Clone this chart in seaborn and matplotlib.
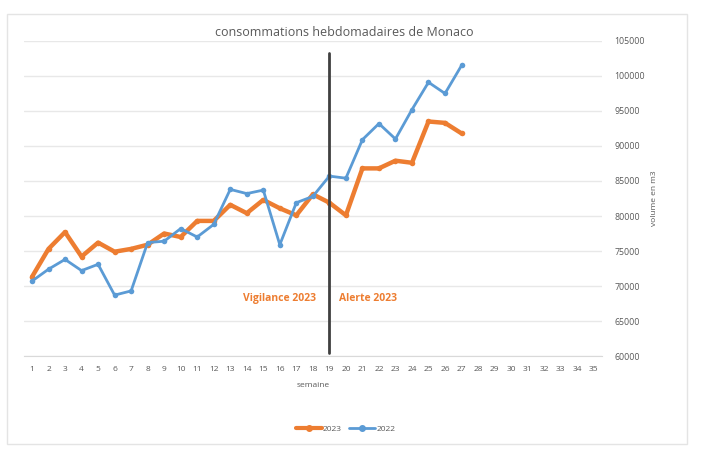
import numpy as np
import pandas as pd
import matplotlib
matplotlib.use("Agg")
import matplotlib.pyplot as plt
import seaborn as sns
from matplotlib.patches import Rectangle
from matplotlib.lines import Line2D

# -------------------------
# DATA
# -------------------------
weeks = list(range(1, 28))
conso_2023 = [71300, 75300, 77700, 74200, 76200, 74900, 75300, 75900, 77500, 77000,
              79300, 79300, 81600, 80400, 82300, 81100, 80100, 83100, 81900, 80100,
              86800, 86800, 87900, 87600, 93500, 93300, 91800]
conso_2022 = [70700, 72400, 73800, 72200, 73100, 68700, 69300, 76200, 76400, 78200,
              77000, 78800, 83800, 83200, 83700, 75900, 81900, 82800, 85700, 85400,
              90900, 93200, 91000, 95200, 99100, 97500, 101500]
all_weeks = list(range(1, 36))
y_ticks = list(range(60000, 105001, 5000))

ORANGE = "#ED7D31"
BLUE = "#5B9BD5"
GREY = "#595959"

df = pd.DataFrame({
    "semaine": weeks * 2,
    "volume": conso_2023 + conso_2022,
    "annee": ["2023"] * len(weeks) + ["2022"] * len(weeks),
})

# -------------------------
# FIGURE
# -------------------------
sns.set_style("white")
plt.rcParams["font.family"] = ["Open Sans", "DejaVu Sans"]

fig = plt.figure(figsize=(7.02, 4.62), dpi=100)
ax = fig.add_axes([0.0338, 0.2294, 0.8237, 0.6819])

sns.lineplot(data=df[df.annee == "2022"], x="semaine", y="volume", ax=ax,
             color=BLUE, linewidth=2, marker="o", markersize=4,
             markeredgewidth=0, zorder=3)
sns.lineplot(data=df[df.annee == "2023"], x="semaine", y="volume", ax=ax,
             color=ORANGE, linewidth=3.2, marker="o", markersize=4,
             markeredgewidth=0, zorder=2)

# vertical separator at week 19
ax.plot([19, 19], [60400, 103300], color="#404040", linewidth=2, zorder=4)
ax.text(18.2, 68150, "Vigilance 2023", color=ORANGE, fontsize=7.5,
        fontweight="bold", ha="right", va="center")
ax.text(19.6, 68150, "Alerte 2023", color=ORANGE, fontsize=7.5,
        fontweight="bold", ha="left", va="center")

# axes
ax.set_xlim(0.5, 35.5)
ax.set_ylim(60000, 105000)
ax.set_xticks(all_weeks)
ax.set_xticklabels([str(w) for w in all_weeks], fontsize=6, color=GREY)
ax.set_xticks(np.arange(0.5, 36, 1), minor=True)
ax.tick_params(axis="x", which="major", length=0, pad=7)
ax.tick_params(axis="x", which="minor", length=3, color="#d9d9d9", width=0.8)

ax.yaxis.tick_right()
ax.yaxis.set_label_position("right")
ax.set_yticks(y_ticks)
ax.set_yticklabels([str(v) for v in y_ticks], fontsize=6.3, color=GREY)
ax.tick_params(axis="y", length=0, pad=9)
ax.grid(axis="y", color="#e8e8e8", linewidth=1)
ax.set_axisbelow(True)

for s in ["top", "left", "right"]:
    ax.spines[s].set_visible(False)
ax.spines["bottom"].set_color("#d9d9d9")

ax.set_xlabel("semaine", fontsize=6, color=GREY, labelpad=7)
ax.set_ylabel("volume en m3", fontsize=6, color=GREY, labelpad=4)
fig.text(0.491, 0.930, "consommations hebdomadaires de Monaco", fontsize=9,
         color=GREY, ha="center", va="center")

# legend
handles = [
    Line2D([], [], color=ORANGE, linewidth=3, marker="o", markersize=4),
    Line2D([], [], color=BLUE, linewidth=2, marker="o", markersize=4),
]
fig.legend(handles, ["2023", "2022"], loc="center", bbox_to_anchor=(0.492, 0.071),
           ncol=2, frameon=False, fontsize=6, handlelength=3.2,
           handletextpad=0.1, columnspacing=0.8, labelcolor=GREY)

# chart frame
fig.patches.append(Rectangle((0.01, 0.039), 0.9687, 0.9307, transform=fig.transFigure,
                             fill=False, edgecolor="#e4e4e4", linewidth=1))

fig.savefig("out.png", dpi=100)
